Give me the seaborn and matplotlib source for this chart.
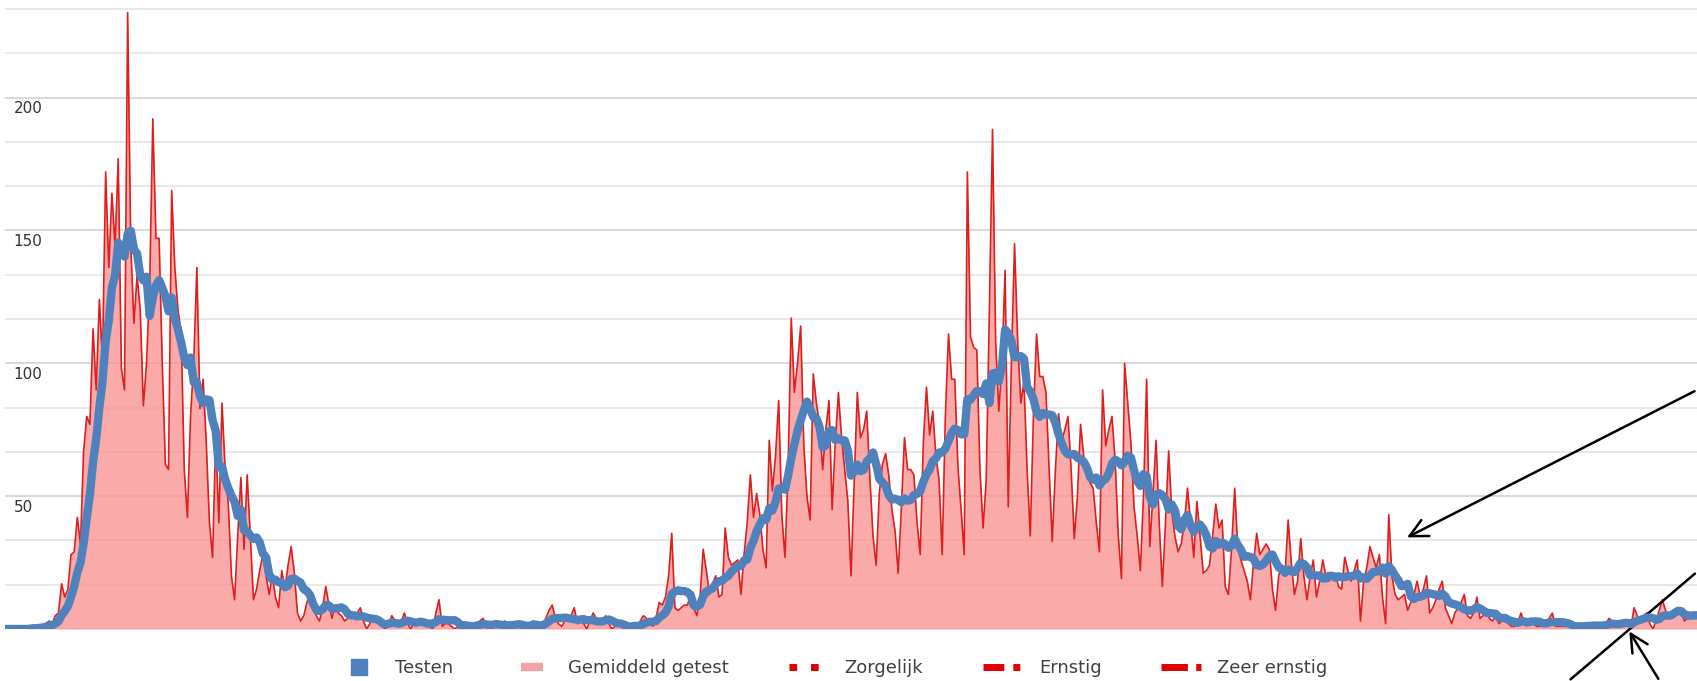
import numpy as np
import pandas as pd
import matplotlib
matplotlib.use("Agg")
import matplotlib.pyplot as plt
import seaborn as sns
from matplotlib.lines import Line2D

# dagelijkse waarden
dagwaarden = [
    0, 0, 0, 0, 0, 0, 0, 0, 1, 1,
    0, 1, 1, 2, 3, 2, 5, 6, 17, 12,
    15, 28, 29, 42, 32, 67, 80, 77, 113, 90,
    124, 101, 172, 136, 164, 144, 177, 98, 90, 232,
    144, 115, 133, 120, 84, 100, 129, 192, 147, 147,
    100, 62, 60, 165, 136, 120, 112, 60, 42, 80,
    100, 136, 83, 94, 70, 40, 27, 72, 40, 85,
    60, 47, 20, 11, 35, 57, 30, 58, 35, 11,
    15, 22, 28, 20, 13, 20, 12, 8, 22, 15,
    24, 31, 21, 6, 3, 5, 10, 13, 8, 5,
    3, 8, 16, 9, 4, 9, 6, 5, 3, 4,
    5, 4, 6, 8, 3, 0, 2, 4, 3, 2,
    1, 0, 2, 5, 3, 1, 3, 6, 2, 0,
    2, 3, 3, 2, 3, 1, 0, 6, 11, 1,
    2, 2, 1, 0, 1, 2, 2, 1, 1, 0,
    2, 3, 4, 1, 0, 1, 2, 1, 2, 3,
    1, 0, 2, 3, 1, 0, 1, 2, 3, 1,
    1, 2, 4, 7, 9, 4, 2, 1, 3, 3,
    5, 8, 2, 3, 2, 0, 3, 6, 4, 2,
    3, 5, 2, 0, 1, 2, 1, 0, 1, 1,
    2, 1, 3, 5, 4, 3, 1, 4, 10, 9,
    12, 20, 36, 8, 7, 8, 9, 9, 13, 8,
    5, 12, 30, 22, 13, 17, 20, 12, 13, 38,
    27, 24, 25, 26, 13, 28, 40, 58, 42, 51,
    43, 30, 23, 71, 52, 65, 86, 43, 27, 60,
    117, 89, 100, 114, 69, 50, 41, 96, 85, 77,
    60, 75, 86, 45, 70, 89, 72, 60, 48, 20,
    55, 89, 72, 75, 82, 57, 35, 24, 51, 62,
    66, 58, 45, 37, 21, 45, 72, 60, 60, 58,
    40, 28, 70, 91, 73, 82, 65, 56, 28, 80,
    111, 94, 94, 61, 45, 28, 172, 110, 106, 105,
    60, 38, 56, 120, 188, 108, 82, 100, 135, 46,
    100, 145, 108, 85, 93, 60, 35, 80, 111, 95,
    95, 89, 60, 33, 60, 81, 71, 75, 80, 60,
    34, 50, 77, 65, 59, 55, 53, 40, 29, 90,
    69, 75, 80, 63, 35, 19, 100, 85, 70, 46,
    35, 22, 50, 94, 31, 50, 71, 40, 16, 40,
    67, 44, 35, 29, 32, 40, 53, 40, 27, 48,
    35, 21, 22, 24, 35, 47, 38, 41, 16, 13,
    30, 53, 30, 26, 22, 18, 11, 25, 36, 28,
    30, 32, 30, 15, 7, 20, 24, 20, 41, 25,
    13, 18, 34, 20, 11, 20, 26, 12, 18, 26,
    20, 18, 20, 21, 16, 15, 27, 22, 18, 22,
    26, 3, 18, 23, 31, 27, 23, 28, 12, 2,
    43, 20, 13, 11, 12, 13, 7, 10, 13, 18,
    12, 15, 20, 6, 8, 11, 15, 18, 8, 5,
    2, 6, 8, 10, 13, 5, 4, 6, 12, 4,
    5, 7, 4, 3, 5, 2, 3, 5, 2, 1,
    1, 2, 6, 3, 2, 4, 2, 1, 1, 2,
    3, 4, 6, 1, 1, 1, 1, 1, 1, 1,
    1, 1, 1, 2, 1, 2, 1, 1, 1, 2,
    4, 3, 1, 1, 2, 3, 2, 1, 8, 5,
    3, 5, 6, 2, 0, 3, 7, 11, 7, 5,
    4, 6, 8, 6, 3, 4, 4, 5, 6,
]

y_labels = [50, 100, 150, 200]
legend_labels = ["Testen", "Gemiddeld getest", "Zorgelijk", "Ernstig", "Zeer ernstig"]

df = pd.DataFrame({"dag": np.arange(len(dagwaarden)), "waarde": dagwaarden})
df["gemiddeld"] = df["waarde"].rolling(7, min_periods=1).mean()

sns.set_style("white")
plt.rcParams["font.family"] = ["DejaVu Sans"]

W, H = 1697, 681
fig = plt.figure(figsize=(W / 100, H / 100), dpi=100)
ax = fig.add_axes([5 / W, 52 / H, 1692 / W, 621 / H])

# pink area + red daily line + blue average
ax.fill_between(df["dag"], df["waarde"], color="#fa9595", alpha=0.8, lw=0, zorder=2)
sns.lineplot(data=df, x="dag", y="waarde", color="#dd1f1f", lw=1.2, ax=ax, zorder=3)
sns.lineplot(data=df, x="dag", y="gemiddeld", color="#4f81bd", lw=6, ax=ax, zorder=4,
             solid_capstyle="round", solid_joinstyle="round")

ax.set_xlim(0, len(dagwaarden) - 1)
ax.set_ylim(0, 233.33 * 621 / 620)
ax.set_yticks(np.arange(0, 234, 50 / 3))
ax.grid(False)
for t in ax.get_yticks():
    kleur = "#cfcfcf" if round(t) % 50 == 0 else "#e2e2e2"
    ax.axhline(t, color=kleur, lw=1.1, zorder=1)
for s in ax.spines.values():
    s.set_visible(False)
ax.tick_params(left=False, bottom=False, labelleft=False, labelbottom=False)
ax.set_xlabel("")
ax.set_ylabel("")

for v in y_labels:
    ax.text(0.005, v - 1.3, str(v), transform=ax.get_yaxis_transform(),
            ha="left", va="top", fontsize=11, color="#333333")

# legend
handles = [
    Line2D([], [], ls="none", marker="s", markersize=12, color="#4f81bd"),
    Line2D([], [], ls="none", marker="_", markersize=16, markeredgewidth=6, color="#f4a3a3"),
    Line2D([], [], color="#e00000", lw=5, dashes=(1.1, 2.0)),
    Line2D([], [], color="#e00000", lw=5, dashes=(3.0, 1.3, 1, 3)),
    Line2D([], [], color="#e00000", lw=5, dashes=(3.8, 1.2, 1, 3)),
]
fig.legend(handles, legend_labels, loc="center", bbox_to_anchor=(833 / W, 1 - 668 / H),
           ncol=5, frameon=False, fontsize=13, handlelength=2.2, numpoints=1,
           columnspacing=3.3, handletextpad=0.9, labelcolor="#404040")

# black arrows drawn on top of the chart
pijl = dict(arrowstyle="->", color="black", lw=1.8, mutation_scale=32)
ax.annotate("", xy=(445, 34), xycoords="data", xytext=(1.0, 0.385),
            textcoords="axes fraction", arrowprops=pijl, annotation_clip=False)
ax.annotate("", xy=(1.0, 0.092), xycoords="axes fraction", xytext=(0.924, -0.084),
            textcoords="axes fraction",
            arrowprops=dict(arrowstyle="-", color="black", lw=1.8), annotation_clip=False)
ax.annotate("", xy=(516, 0), xycoords="data", xytext=(0.978, -0.084),
            textcoords="axes fraction", arrowprops=pijl, annotation_clip=False)

fig.savefig("out.png", dpi=100)
